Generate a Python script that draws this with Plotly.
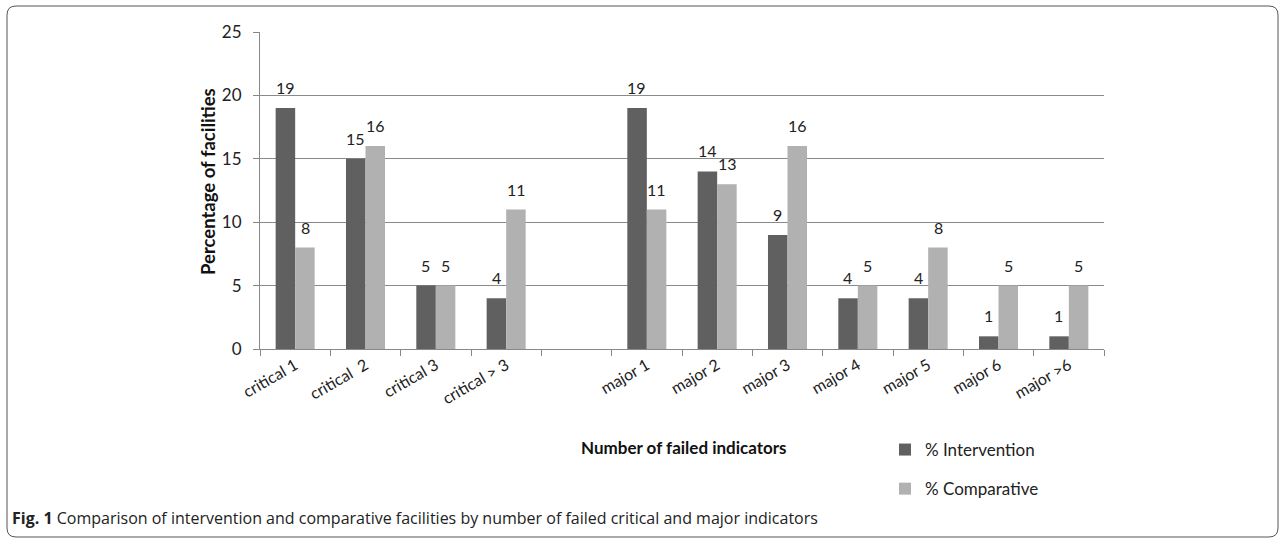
import plotly.graph_objects as go

categories = ["critical 1", "critical  2", "critical 3", "critical > 3", " ",
              "major 1", "major 2", "major 3", "major 4", "major 5", "major 6", "major >6"]
intervention = [19, 15, 5, 4, None, 19, 14, 9, 4, 4, 1, 1]
comparative = [8, 16, 5, 11, None, 11, 13, 16, 5, 8, 5, 5]
y_ticks = [0, 5, 10, 15, 20, 25]

W, H = 1284, 544
L, R, T, B = 260, 1104, 32, 349
PW, PH = R - L, B - T

def px(x):
    return (x - L) / PW

def py(y):
    return (B - y) / PH

FONT = "Lato"
DARK = "#606060"
LIGHT = "#b1b1b1"

fig = go.Figure()
fig.add_bar(x=categories, y=intervention, name="% Intervention", marker_color=DARK,
            marker_line_width=0, legendgroup="a")
fig.add_bar(x=categories, y=comparative, name="% Comparative", marker_color=LIGHT,
            marker_line_width=0, legendgroup="b")

annotations = []
for cat, a, c in zip(categories, intervention, comparative):
    for v, sh in ((a, -10), (c, 10)):
        if v is None:
            continue
        annotations.append(dict(x=cat, y=v, xref="x", yref="y", text=str(v), showarrow=False,
                                xshift=sh, yshift=9, yanchor="bottom",
                                font=dict(family=FONT, size=16, color="#222")))

annotations.append(dict(x=px(684), y=py(447), xref="paper", yref="paper",
                        text="<b>Number of failed indicators</b>", showarrow=False,
                        xanchor="center", yanchor="middle",
                        font=dict(family=FONT, size=17, color="#111")))
annotations.append(dict(x=px(208), y=py(182), xref="paper", yref="paper",
                        text="<b>Percentage of facilities</b>", showarrow=False, textangle=-90,
                        xanchor="center", yanchor="middle",
                        font=dict(family=FONT, size=18.5, color="#111")))
annotations.append(dict(x=px(10), y=py(518), xref="paper", yref="paper",
                        text="<b>Fig. 1</b> Comparison of intervention and comparative facilities by number of failed critical and major indicators",
                        showarrow=False, xanchor="left", yanchor="middle",
                        font=dict(family="Open Sans", size=16, color="#222")))

# rounded border
x0, x1, y0, y1, r = 7, 1278, 6, 537, 9
path = (f"M {px(x0+r)},{py(y0)} L {px(x1-r)},{py(y0)} Q {px(x1)},{py(y0)} {px(x1)},{py(y0+r)} "
        f"L {px(x1)},{py(y1-r)} Q {px(x1)},{py(y1)} {px(x1-r)},{py(y1)} "
        f"L {px(x0+r)},{py(y1)} Q {px(x0)},{py(y1)} {px(x0)},{py(y1-r)} "
        f"L {px(x0)},{py(y0+r)} Q {px(x0)},{py(y0)} {px(x0+r)},{py(y0)} Z")

fig.update_layout(
    width=W, height=H,
    margin=dict(l=L, r=W - R, t=T, b=H - B),
    paper_bgcolor="white", plot_bgcolor="white",
    barmode="group", bargap=0.445, bargroupgap=0,
    showlegend=True,
    legend=dict(x=px(885), y=py(432), xanchor="left", yanchor="top",
                font=dict(family=FONT, size=17, color="#222"),
                tracegroupgap=14, itemwidth=30, traceorder="grouped",
                bgcolor="rgba(0,0,0,0)"),
    annotations=annotations,
    shapes=[dict(type="path", path=path, xref="paper", yref="paper",
                 line=dict(color="#555", width=1))],
    xaxis=dict(type="category", categoryorder="array", categoryarray=categories,
               tickangle=-30, ticks="outside", ticklen=6, tickcolor="#888",
               tickson="boundaries", showline=True, linecolor="#888", linewidth=1,
               showgrid=False, tickfont=dict(family=FONT, size=16, color="#222")),
    yaxis=dict(range=[0, 25], tickvals=y_ticks, ticks="outside", ticklen=6, tickcolor="#888",
               showline=True, linecolor="#888", linewidth=1, ticklabelstandoff=8,
               showgrid=True, gridcolor="#8a8a8a", gridwidth=1, zeroline=False,
               tickfont=dict(family=FONT, size=17, color="#222")),
)

fig.write_html("out.html", config={"displayModeBar": False},
               post_script="document.body.style.margin='0';")
